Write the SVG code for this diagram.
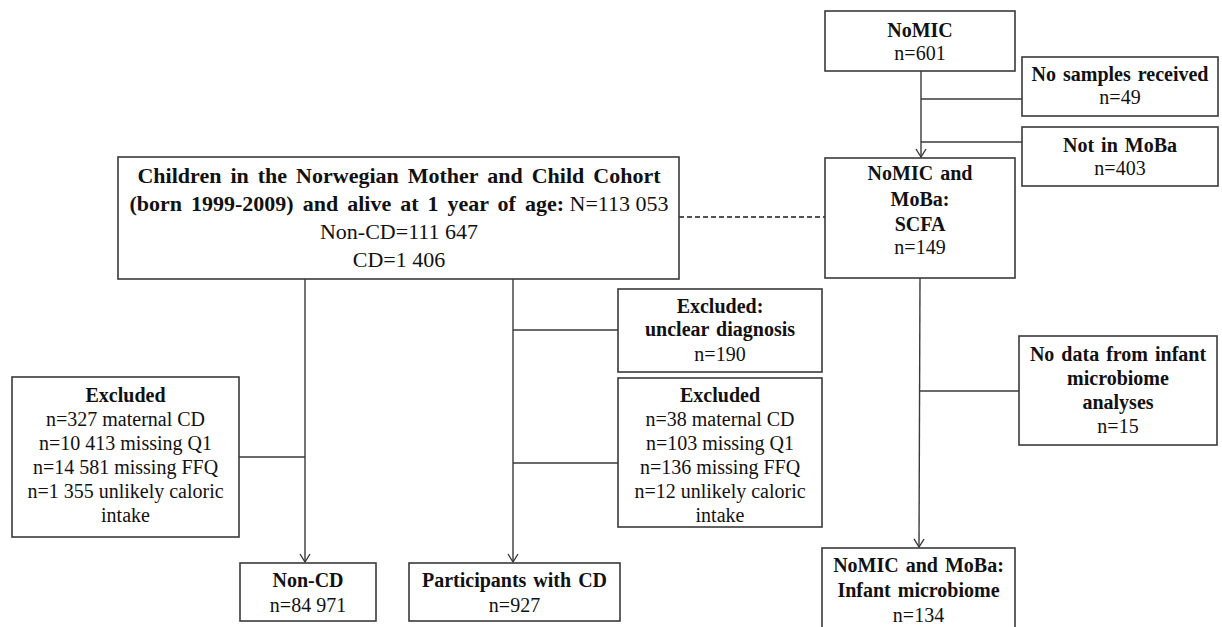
<svg xmlns="http://www.w3.org/2000/svg" width="1222" height="627" viewBox="0 0 1222 627">
<defs>
<style>
.box{fill:#fff;stroke:#3a3a3a;stroke-width:1.6}
.ln{fill:none;stroke:#3a3a3a;stroke-width:1.4}
.dash{fill:none;stroke:#1a1a1a;stroke-width:1.6;stroke-dasharray:5 3}
text{font-family:"Liberation Serif","Times New Roman",serif;font-size:20px;fill:#111;text-anchor:middle}
.b{font-weight:bold;word-spacing:2px}
.big{font-size:22px}
.bb{font-weight:bold;word-spacing:3.5px}
</style>
<marker id="arr" viewBox="-10 -6 12 12" markerWidth="12" markerHeight="12" refX="0" refY="0" orient="auto" markerUnits="userSpaceOnUse" overflow="visible">
<path d="M-8,-5 L0,0 L-8,5" fill="none" stroke="#3a3a3a" stroke-width="1.4"/>
</marker>
</defs>
<rect width="1222" height="627" fill="#fff"/>

<g id="connectors">
<line class="dash" x1="679" y1="217" x2="825" y2="217"/>
<line class="ln" x1="921" y1="71" x2="921" y2="157" marker-end="url(#arr)"/>
<line class="ln" x1="921" y1="99" x2="1022" y2="99"/>
<line class="ln" x1="921" y1="142" x2="1022" y2="142"/>
<line class="ln" x1="305" y1="279" x2="305" y2="562" marker-end="url(#arr)"/>
<line class="ln" x1="239" y1="457" x2="305" y2="457"/>
<line class="ln" x1="513" y1="279" x2="513" y2="562" marker-end="url(#arr)"/>
<line class="ln" x1="513" y1="330" x2="618" y2="330"/>
<line class="ln" x1="513" y1="463" x2="618" y2="463"/>
<line class="ln" x1="920" y1="278" x2="919" y2="547" marker-end="url(#arr)"/>
<line class="ln" x1="920" y1="391" x2="1019" y2="391"/>
</g>

<g id="nomic">
<rect class="box" x="825" y="11" width="190" height="60"/>
<text class="b" x="920" y="37">NoMIC</text>
<text x="920" y="60">n=601</text>
</g>

<g id="no-samples">
<rect class="box" x="1022" y="57" width="196" height="59"/>
<text class="b" x="1120" y="81">No samples received</text>
<text x="1120" y="104">n=49</text>
</g>

<g id="not-in-moba">
<rect class="box" x="1022" y="127" width="196" height="59"/>
<text class="b" x="1120" y="152">Not in MoBa</text>
<text x="1120" y="175">n=403</text>
</g>

<g id="scfa">
<rect class="box" x="825" y="158" width="190" height="120"/>
<text class="b" x="920" y="180">NoMIC and</text>
<text class="b" x="920" y="206">MoBa:</text>
<text class="b" x="920" y="231">SCFA</text>
<text x="920" y="254">n=149</text>
</g>

<g id="cohort">
<rect class="box" x="118" y="157" width="561" height="122"/>
<text class="bb big" x="399" y="183">Children in the Norwegian Mother and Child Cohort</text>
<text class="big" x="399" y="211"><tspan class="bb">(born 1999-2009) and alive at 1 year of age:</tspan> N=113 053</text>
<text class="big" x="399" y="239">Non-CD=111 647</text>
<text class="big" x="399" y="267">CD=1 406</text>
</g>

<g id="excluded-noncd">
<rect class="box" x="12" y="377" width="227" height="160"/>
<text class="b" x="125.5" y="402">Excluded</text>
<text x="125.5" y="426">n=327 maternal CD</text>
<text x="125.5" y="450">n=10 413 missing Q1</text>
<text x="125.5" y="474">n=14 581 missing FFQ</text>
<text x="125.5" y="498">n=1 355 unlikely caloric</text>
<text x="125.5" y="522">intake</text>
</g>

<g id="excluded-unclear">
<rect class="box" x="618" y="289" width="204" height="83"/>
<text class="b" x="720" y="313">Excluded:</text>
<text class="b" x="720" y="336">unclear diagnosis</text>
<text x="720" y="361">n=190</text>
</g>

<g id="excluded-cd">
<rect class="box" x="618" y="378" width="204" height="149"/>
<text class="b" x="720" y="402">Excluded</text>
<text x="720" y="426">n=38 maternal CD</text>
<text x="720" y="450">n=103 missing Q1</text>
<text x="720" y="474">n=136 missing FFQ</text>
<text x="720" y="498">n=12 unlikely caloric</text>
<text x="720" y="522">intake</text>
</g>

<g id="no-data">
<rect class="box" x="1019" y="336" width="198" height="109"/>
<text class="b" x="1118" y="361">No data from infant</text>
<text class="b" x="1118" y="385">microbiome</text>
<text class="b" x="1118" y="409">analyses</text>
<text x="1118" y="433">n=15</text>
</g>

<g id="non-cd">
<rect class="box" x="240" y="563" width="136" height="58"/>
<text class="b" x="308" y="587">Non-CD</text>
<text x="308" y="612">n=84 971</text>
</g>

<g id="participants-cd">
<rect class="box" x="409" y="563" width="211" height="58"/>
<text class="b" x="514.5" y="587">Participants with CD</text>
<text x="514.5" y="612">n=927</text>
</g>

<g id="infant-microbiome">
<rect class="box" x="822" y="548" width="193" height="100"/>
<text class="b" x="918.5" y="572">NoMIC and MoBa:</text>
<text class="b" x="918.5" y="597">Infant microbiome</text>
<text x="918.5" y="622">n=134</text>
</g>
</svg>
